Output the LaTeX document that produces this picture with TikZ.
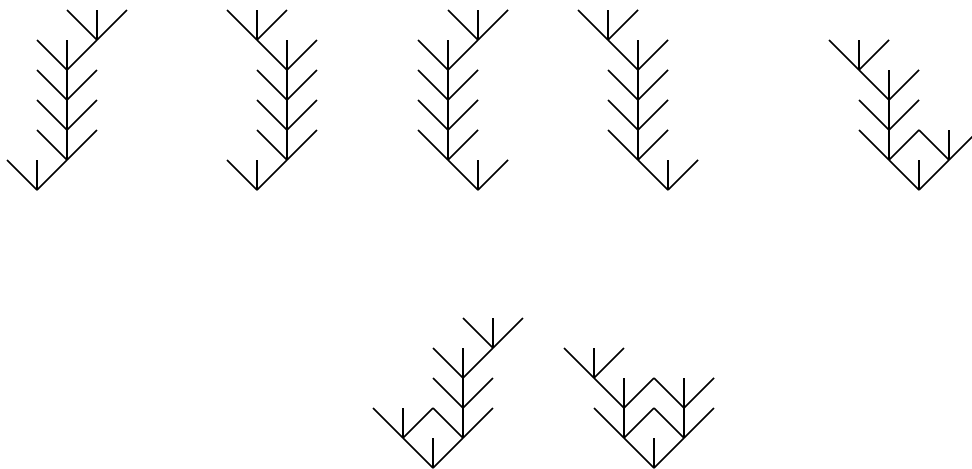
\documentclass[tikz,border=0pt]{standalone}
\usetikzlibrary{calc}
\tikzset{edge/.style={draw=black,line width=0.9pt}}
\newcommand{\tern}[1]{%
  \coordinate (#1l) at ($(#1)+(-30,-30)$);
  \coordinate (#1m) at ($(#1)+(0,-30)$);
  \coordinate (#1r) at ($(#1)+(30,-30)$);
  \draw[edge] (#1) -- (#1l) (#1) -- (#1m) (#1) -- (#1r);}
\begin{document}
\begin{tikzpicture}[x=0.02cm,y=-0.02cm]
\useasboundingbox (0,0) rectangle (972,468);
\clip (0,0) rectangle (972,468);
% tree 1
\coordinate (a) at (37,190);
\tern{a}\tern{ar}\tern{arm}\tern{armm}\tern{armmm}\tern{armmmr}
% tree 2
\coordinate (b) at (257,190);
\tern{b}\tern{br}\tern{brm}\tern{brmm}\tern{brmmm}\tern{brmmml}
% tree 3
\coordinate (c) at (478,190);
\tern{c}\tern{cl}\tern{clm}\tern{clmm}\tern{clmmm}\tern{clmmmr}
% tree 4
\coordinate (d) at (668,190);
\tern{d}\tern{dl}\tern{dlm}\tern{dlmm}\tern{dlmmm}\tern{dlmmml}
% tree 5
\coordinate (e) at (919,190);
\tern{e}\tern{el}\tern{er}\tern{elm}\tern{elmm}\tern{elmml}
% tree 6
\coordinate (f) at (433,468);
\tern{f}\tern{fl}\tern{fr}\tern{frm}\tern{frmm}\tern{frmmr}
% tree 7
\coordinate (g) at (654,468);
\tern{g}\tern{gl}\tern{gr}\tern{glm}\tern{glml}\tern{grm}
\end{tikzpicture}
\end{document}
